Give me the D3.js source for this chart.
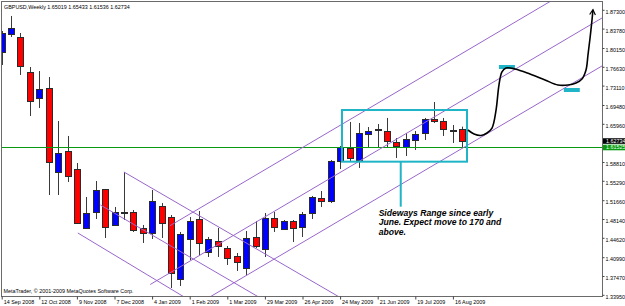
<!DOCTYPE html>
<html>
<head>
<meta charset="utf-8">
<script src="https://cdn.jsdelivr.net/npm/d3@7"></script>
<style>
  body { margin: 0; background: #fff; }
  svg { display: block; }
  text { font-family: "Liberation Sans", Arial, sans-serif; }
</style>
</head>
<body>
<svg id="chart" width="625" height="306"></svg>
<script>
const symbol = 'GBPUSD,Weekly';
const lastOHLC = [1.65019, 1.65433, 1.61536, 1.62734];

// weekly bars, 14 Sep 2008 .. 23 Aug 2009
const opens = [1.7940, 1.8277, 1.8221, 1.7566, 1.7079, 1.7266, 1.5694, 1.6087, 1.5750, 1.4646,
  1.4945, 1.5376, 1.4702, 1.4945, 1.4945, 1.4646, 1.4552, 1.5057, 1.4851, 1.3691,
  1.4440, 1.4814, 1.4196, 1.4402, 1.4271, 1.4121, 1.3897, 1.4477, 1.4252, 1.4833,
  1.4627, 1.4777, 1.4664, 1.4926, 1.5207, 1.5151, 1.5900, 1.6143, 1.5918, 1.6405,
  1.6480, 1.6461, 1.6255, 1.6162, 1.6293, 1.6424, 1.6686, 1.6648, 1.6480, 1.65019];
const highs = [1.8333, 1.8614, 1.8296, 1.7659, 1.7584, 1.7472, 1.6648, 1.6368, 1.5862, 1.5226,
  1.5525, 1.5376, 1.5039, 1.5694, 1.4982, 1.4702, 1.5357, 1.5113, 1.4889, 1.4571,
  1.4851, 1.4964, 1.4477, 1.4646, 1.4309, 1.4178, 1.4589, 1.4777, 1.4926, 1.4945,
  1.4795, 1.4795, 1.4945, 1.5245, 1.5338, 1.5918, 1.6180, 1.6630, 1.6611, 1.6536,
  1.6592, 1.6705, 1.6330, 1.6424, 1.6461, 1.6705, 1.7004, 1.6705, 1.6574, 1.65433];
const lows = [1.7697, 1.8221, 1.7510, 1.6742, 1.6892, 1.5263, 1.5263, 1.5507, 1.4720, 1.4627,
  1.4814, 1.4458, 1.4683, 1.4795, 1.4571, 1.4365, 1.4440, 1.4458, 1.3522, 1.3560,
  1.4047, 1.4140, 1.4103, 1.4103, 1.3953, 1.3841, 1.3766, 1.4271, 1.4103, 1.4571,
  1.4608, 1.4383, 1.4477, 1.4814, 1.5039, 1.5113, 1.5750, 1.5900, 1.5769, 1.6162,
  1.6162, 1.6162, 1.5956, 1.5993, 1.6106, 1.6293, 1.6611, 1.6368, 1.6237, 1.61536];
const closes = [1.8296, 1.8389, 1.7678, 1.7023, 1.7247, 1.5881, 1.6049, 1.5619, 1.4739, 1.4926,
  1.5357, 1.4664, 1.4945, 1.4917, 1.4608, 1.4552, 1.5151, 1.4739, 1.3803, 1.4533,
  1.4777, 1.4365, 1.4440, 1.4309, 1.4084, 1.4009, 1.4458, 1.4309, 1.4833, 1.4664,
  1.4777, 1.4646, 1.4908, 1.5226, 1.5151, 1.5900, 1.6162, 1.5956, 1.6424, 1.6461,
  1.6499, 1.6274, 1.6180, 1.6312, 1.6405, 1.6686, 1.6648, 1.6499, 1.6461, 1.62734];

const dateLabels = ['14 Sep 2008', '12 Oct 2008', '9 Nov 2008', '7 Dec 2008', '4 Jan 2009',
  '1 Feb 2009', '1 Mar 2009', '29 Mar 2009', '26 Apr 2009', '24 May 2009',
  '21 Jun 2009', '19 Jul 2009', '16 Aug 2009'];
const priceTicks = [1.87300, 1.83780, 1.80150, 1.76630, 1.73110, 1.69480, 1.65960,
  1.58810, 1.55290, 1.51660, 1.48140, 1.44620, 1.40990, 1.37470, 1.33950];
const hLinePrice = 1.61525;

// drawn objects, points are [week, price]
const upLines = [
  [[17.9, 1.4688], [59.4, 1.8996]],
  [[15.8, 1.3588], [64.0, 1.8591]],
  [[21.6, 1.3298], [64.0, 1.7693]]
];
const downLines = [
  [[13.0, 1.5694], [36.5, 1.3294]],
  [[10.5, 1.5076], [27.7, 1.3316]],
  [[8.1, 1.4552], [19.8, 1.3313]]
];
const rangeBox = [[36.2, 1.6854], [49.5, 1.5887]];
const pointer = [[42.45, 1.5887], [42.45, 1.5044]];
const projection = [[49.6, 1.6480], [50.25, 1.6405], [50.99, 1.6377], [51.63, 1.6424],
  [52.16, 1.6517], [52.59, 1.6854], [52.9, 1.7322], [53.22, 1.7566], [53.65, 1.7641],
  [54.61, 1.7622], [56.2, 1.7528], [57.8, 1.7416], [59.18, 1.7322], [60.24, 1.7322],
  [61.1, 1.7360], [61.73, 1.7435], [62.16, 1.7603], [62.37, 1.7884], [62.59, 1.8202],
  [62.8, 1.8544], [62.9, 1.8731]];
const targets = [[52.9, 54.6, 1.7659], [59.8, 61.5, 1.7229]];
const note = ['Sideways Range since early', 'June. Expect move to 170 and', 'above.'];
const notePos = [40.1, 1.4870];

const svg = d3.select('#chart');
const plot = { left: 1, top: 1, right: 602, bottom: 296 };

const x = d3.scaleLinear().domain([0, 48]).range([1.7, 452.9]);
const y = d3.scaleLinear().domain([1.3395, 1.873]).range([294.8, 9.8]);

const purple = '#9966cc';
const cyan = '#1fb4c6';
const green = '#0a9a12';

svg.append('defs').append('clipPath').attr('id', 'clip')
  .append('rect')
  .attr('x', plot.left + 1).attr('y', plot.top + 1)
  .attr('width', plot.right - plot.left - 1).attr('height', plot.bottom - plot.top - 1);

svg.select('defs').append('marker')
  .attr('id', 'arrow')
  .attr('viewBox', '0 0 10 10')
  .attr('refX', 8).attr('refY', 5)
  .attr('markerWidth', 4.5).attr('markerHeight', 4.5)
  .attr('orient', 'auto')
  .append('path')
  .attr('d', 'M1,1 L8,5 L1,9')
  .attr('fill', 'none')
  .attr('stroke', '#000')
  .attr('stroke-width', 1.6);

const g = svg.append('g').attr('clip-path', 'url(#clip)');

// candles
const bars = d3.range(opens.length).map(i => ({
  i, o: opens[i], h: highs[i], l: lows[i], c: closes[i]
}));

g.selectAll('.wick')
  .data(bars)
  .enter()
  .append('line')
  .attr('class', 'wick')
  .attr('x1', d => Math.round(x(d.i)) + 0.5)
  .attr('x2', d => Math.round(x(d.i)) + 0.5)
  .attr('y1', d => y(d.h))
  .attr('y2', d => y(d.l))
  .attr('stroke', '#3a3a3a')
  .attr('stroke-width', 1);

g.selectAll('.body')
  .data(bars)
  .enter()
  .append('rect')
  .attr('class', 'body')
  .attr('x', d => Math.round(x(d.i)) - 2.5)
  .attr('y', d => Math.round(y(Math.max(d.o, d.c))) + 0.5)
  .attr('width', 6)
  .attr('height', d => Math.max(1, Math.round(Math.abs(y(d.o) - y(d.c)))))
  .attr('fill', d => d.c >= d.o ? '#0000ff' : '#ff0000')
  .attr('stroke', '#2a2a2a')
  .attr('stroke-width', 1)
  .attr('shape-rendering', 'crispEdges');

// horizontal line
g.append('line')
  .attr('x1', plot.left).attr('x2', plot.right)
  .attr('y1', Math.round(y(hLinePrice)) + 0.5)
  .attr('y2', Math.round(y(hLinePrice)) + 0.5)
  .attr('stroke', green)
  .attr('stroke-width', 1.2)
  .attr('shape-rendering', 'crispEdges');

// channels
const seg = d3.line().x(d => x(d[0])).y(d => y(d[1]));

g.selectAll('.chan')
  .data(upLines.concat(downLines))
  .enter()
  .append('path')
  .attr('class', 'chan')
  .attr('d', seg)
  .attr('fill', 'none')
  .attr('stroke', purple)
  .attr('stroke-width', 1);

// sideways range box
g.append('rect')
  .attr('x', x(rangeBox[0][0]))
  .attr('y', y(rangeBox[0][1]))
  .attr('width', x(rangeBox[1][0]) - x(rangeBox[0][0]))
  .attr('height', y(rangeBox[1][1]) - y(rangeBox[0][1]))
  .attr('fill', 'none')
  .attr('stroke', cyan)
  .attr('stroke-width', 2);

g.append('path')
  .datum(pointer)
  .attr('d', seg)
  .attr('stroke', cyan)
  .attr('stroke-width', 2);

// target marks
g.selectAll('.target')
  .data(targets)
  .enter()
  .append('line')
  .attr('class', 'target')
  .attr('x1', d => x(d[0]))
  .attr('x2', d => x(d[1]))
  .attr('y1', d => y(d[2]))
  .attr('y2', d => y(d[2]))
  .attr('stroke', cyan)
  .attr('stroke-width', 4);

// projected path
g.append('path')
  .datum(projection)
  .attr('d', d3.line().x(d => x(d[0])).y(d => y(d[1])).curve(d3.curveCatmullRom))
  .attr('fill', 'none')
  .attr('stroke', '#000')
  .attr('stroke-width', 1.6)
  .attr('marker-end', 'url(#arrow)');

// note
const noteText = svg.append('text')
  .attr('x', x(notePos[0]))
  .attr('y', y(notePos[1]))
  .attr('font-size', 8.6)
  .attr('font-weight', 'bold')
  .attr('font-style', 'italic')
  .attr('fill', '#000');

noteText.selectAll('tspan')
  .data(note)
  .enter()
  .append('tspan')
  .attr('x', x(notePos[0]))
  .attr('dy', (d, i) => i === 0 ? 0 : 9.4)
  .text(d => d);

// frame
svg.append('rect')
  .attr('x', plot.left + 0.5).attr('y', plot.top + 0.5)
  .attr('width', plot.right - plot.left).attr('height', plot.bottom - plot.top)
  .attr('fill', 'none')
  .attr('stroke', '#6a6a6a')
  .attr('stroke-width', 1);

// axes
const xAxis = svg.append('g')
  .attr('transform', `translate(0,${plot.bottom + 0.5})`)
  .call(d3.axisBottom(x)
    .tickValues(d3.range(0, 49, 4))
    .tickFormat((d, i) => dateLabels[i])
    .tickSize(3)
    .tickSizeOuter(0));
xAxis.select('.domain').remove();
xAxis.selectAll('.tick line').attr('stroke', '#444');
xAxis.selectAll('.tick text')
  .attr('text-anchor', 'start')
  .attr('x', 1.5)
  .attr('y', 4)
  .attr('font-size', 5.4)
  .attr('font-family', '"Liberation Sans", Arial, sans-serif')
  .attr('fill', '#000');

const yAxis = svg.append('g')
  .attr('transform', `translate(${plot.right + 0.5},0)`)
  .call(d3.axisRight(y)
    .tickValues(priceTicks)
    .tickFormat(d3.format('.5f'))
    .tickSize(2)
    .tickSizeOuter(0));
yAxis.select('.domain').remove();
yAxis.selectAll('.tick line').attr('stroke', '#444');
yAxis.selectAll('.tick text')
  .attr('x', 3)
  .attr('dy', '0.32em')
  .attr('y', 2)
  .attr('font-size', 5.4)
  .attr('font-family', '"Liberation Sans", Arial, sans-serif')
  .attr('fill', '#000');

// price tags on the axis
const tags = [
  { p: lastOHLC[3], bg: '#000', fg: '#fff' },
  { p: hLinePrice, bg: green, fg: '#e8ffe8' }
];
const tag = svg.selectAll('.tag')
  .data(tags)
  .enter()
  .append('g')
  .attr('class', 'tag')
  .attr('transform', d => `translate(${plot.right + 1},${y(d.p)})`);
tag.append('rect')
  .attr('x', 0).attr('y', -2.8)
  .attr('width', 24).attr('height', 5.6)
  .attr('fill', d => d.bg);
tag.append('text')
  .attr('x', 3).attr('dy', '0.34em')
  .attr('font-size', 5.4)
  .attr('fill', d => d.fg)
  .text(d => d3.format('.5f')(d.p));

// header and footer
svg.append('text')
  .attr('x', 4).attr('y', 9)
  .attr('font-size', 5.4)
  .attr('fill', '#000')
  .text(`${symbol}  ${lastOHLC.map(d3.format('.5f')).join(' ')}`);

svg.append('text')
  .attr('x', 3.5).attr('y', 293)
  .attr('font-size', 5.4)
  .attr('fill', '#000')
  .text('MetaTrader, \u00a9 2001-2009 MetaQuotes Software Corp.');
</script>
</body>
</html>
